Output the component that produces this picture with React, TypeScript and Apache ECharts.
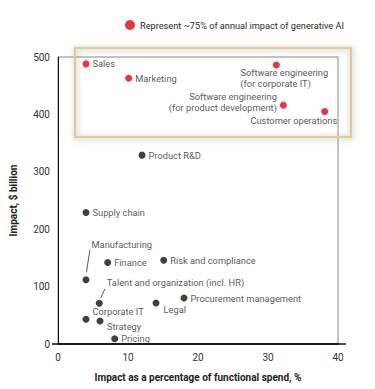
import React, { useEffect, useRef } from "react";
import * as echarts from "echarts";

const legendName = "Represent ~75% of annual impact of generative AI";

const redNames = [
  "Sales",
  "Marketing",
  "Software engineering\n(for corporate IT)",
  "Software engineering\n(for product development)",
  "Customer operations",
];
const redX = [4, 10.1, 31.2, 32.2, 38.1];
const redY = [488, 463, 486, 416, 405];

const blackNames = [
  "Product R&D",
  "Supply chain",
  "Manufacturing",
  "Finance",
  "Risk and compliance",
  "Talent and organization (incl. HR)",
  "Legal",
  "Procurement management",
  "Corporate IT",
  "Strategy",
  "Pricing",
];
const blackX = [12, 4, 4, 7.1, 15.1, 5.9, 14, 18, 4, 6, 8.1];
const blackY = [329, 229, 112, 142, 146, 71, 71.5, 80, 43, 40, 9];

// leader lines (data coordinates)
const leaderLines: [number, number, number, number][] = [
  [4.07, 125, 4.55, 164],
  [6.1, 80, 6.7, 96],
];

const xTicks = { min: 0, max: 40, interval: 10 };
const yTicks = { min: 0, max: 500, interval: 100 };

const FONT = "Roboto, 'Noto Sans', sans-serif";
const LABEL_COLOR = "#2b2b2b";

// label placement styles (position, offset) keyed by name
const labelStyle: Record<string, any> = {
  "Software engineering\n(for corporate IT)": { position: "right", offset: [-42.5, 13] },
  "Software engineering\n(for product development)": { position: "left", offset: [0, -3] },
  "Customer operations": { position: "left", offset: [19, 9] },
  Manufacturing: { position: "right", offset: [-1, -35] },
  "Talent and organization (incl. HR)": { position: "right", offset: [1, -21] },
  Legal: { position: "right", offset: [1, 7] },
  "Corporate IT": { position: "right", offset: [0, -8] },
  Strategy: { position: "right", offset: [0.5, 5] },
};

function buildData(names: string[], xs: number[], ys: number[]) {
  return names.map((n, i) => {
    const s = labelStyle[n] || { position: "right", offset: [0, 0] };
    return {
      name: n,
      value: [xs[i], ys[i]],
      label: {
        show: true,
        formatter: n,
        position: s.position,
        offset: s.offset,
        distance: 3,
        align: s.position === "left" ? "right" : "left",
      },
    };
  });
}

export default function App() {
  const ref = useRef<HTMLDivElement>(null);
  useEffect(() => {
    if (!ref.current) return;
    const chart = echarts.init(ref.current, null, { renderer: "svg" });
    const baseLabel = {
      fontFamily: FONT,
      fontSize: 9.3,
      color: LABEL_COLOR,
      lineHeight: 11,
    };
    chart.setOption({
      animation: false,
      backgroundColor: "#ffffff",
      textStyle: { fontFamily: FONT },
      legend: {
        data: [{ name: legendName, icon: "circle" }],
        left: 120,
        top: 15,
        itemWidth: 10,
        itemHeight: 10,
        textStyle: { fontFamily: FONT, fontSize: 9.2, color: LABEL_COLOR },
        selectedMode: false,
      },
      grid: {
        left: 57,
        right: 37,
        top: 57,
        bottom: 45,
        show: true,
        borderColor: "#8a8a8a",
        borderWidth: 1,
      },
      xAxis: {
        type: "value",
        min: xTicks.min,
        max: xTicks.max,
        interval: xTicks.interval,
        name: "Impact as a percentage of functional spend, %",
        nameLocation: "middle",
        nameGap: 28,
        nameTextStyle: { fontFamily: FONT, fontSize: 10, fontWeight: "bold", color: "#222" },
        axisLine: { show: true, lineStyle: { color: "#111", width: 1.5 } },
        axisTick: { show: false },
        splitLine: { show: false },
        axisLabel: { fontFamily: FONT, fontSize: 10, color: "#333", margin: 8 },
      },
      yAxis: {
        type: "value",
        min: yTicks.min,
        max: yTicks.max,
        interval: yTicks.interval,
        name: "Impact, $ billion",
        nameLocation: "middle",
        nameGap: 40,
        nameTextStyle: { fontFamily: FONT, fontSize: 10, fontWeight: "bold", color: "#222" },
        axisLine: { show: true, lineStyle: { color: "#111", width: 1 } },
        axisTick: { show: false },
        splitLine: { show: false },
        axisLabel: { fontFamily: FONT, fontSize: 10, color: "#333", margin: 8 },
      },
      series: [
        {
          name: legendName,
          type: "scatter",
          symbolSize: 7,
          itemStyle: { color: "#e8000b" },
          label: baseLabel,
          data: buildData(redNames, redX, redY),
          z: 3,
        },
        {
          name: "Other functions",
          type: "scatter",
          symbolSize: 7,
          itemStyle: { color: "#111111" },
          label: baseLabel,
          data: buildData(blackNames, blackX, blackY),
          markLine: {
            silent: true,
            symbol: "none",
            label: { show: false },
            lineStyle: { color: "#333", width: 0.8, type: "solid" },
            data: leaderLines.map((l) => [
              { coord: [l[0], l[1]] },
              { coord: [l[2], l[3]] },
            ]),
          },
        },
      ],
      graphic: [
        {
          type: "line",
          shape: { x1: 52, y1: 344, x2: 346, y2: 344 },
          style: { stroke: "#111", lineWidth: 1.5 },
          z: 5,
        },
        {
          type: "rect",
          shape: { x: 75, y: 48, width: 276, height: 89 },
          style: {
            fill: "none",
            stroke: "#e0cc9a",
            lineWidth: 2.5,
            shadowBlur: 6,
            shadowColor: "rgba(0,0,0,0.25)",
            shadowOffsetX: 1,
            shadowOffsetY: 1,
          },
          z: 10,
        },
      ],
    });
    return () => chart.dispose();
  }, []);
  return (
    <div
      ref={ref}
      style={{ position: "absolute", left: 0, top: 0, width: 375, height: 389 }}
    />
  );
}
